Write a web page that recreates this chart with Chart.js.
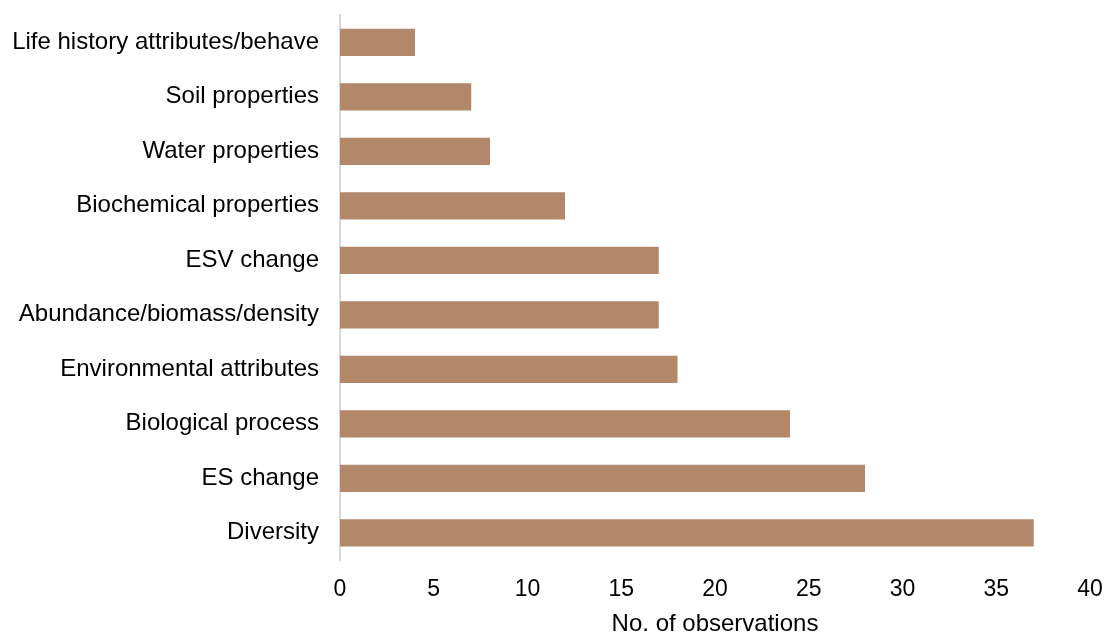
<!DOCTYPE html>
<html>
<head>
<meta charset="utf-8">
<script src="https://cdn.jsdelivr.net/npm/chart.js@4/dist/chart.umd.min.js"></script>
<style>
  html, body { margin: 0; padding: 0; background: #fff; }
  #wrap { width: 1106px; height: 635px; }
</style>
</head>
<body>
<div id="wrap"><canvas id="obsChart" width="1106" height="635"></canvas></div>
<script>
const categories = [
  "Life history attributes/behave",
  "Soil properties",
  "Water properties",
  "Biochemical properties",
  "ESV change",
  "Abundance/biomass/density",
  "Environmental attributes",
  "Biological process",
  "ES change",
  "Diversity"
];
const observations = [4, 7, 8, 12, 17, 17, 18, 24, 28, 37];
const xTicks = [0, 5, 10, 15, 20, 25, 30, 35, 40];

const font = "'Liberation Sans', Arial, sans-serif";

// fixed axis sizes; drop the label-overhang padding so layout.padding sets the plot edges
function fixAxis(size) {
  return (axis) => {
    if (axis.isHorizontal()) axis.height = size; else axis.width = size;
    axis.paddingTop = axis.paddingBottom = axis.paddingLeft = axis.paddingRight = 0;
  };
}

new Chart(document.getElementById("obsChart").getContext("2d"), {
  type: "bar",
  data: {
    labels: categories,
    datasets: [{
      data: observations,
      backgroundColor: "#b2876a",
      borderWidth: 0,
      barPercentage: 0.5,
      categoryPercentage: 1.0
    }]
  },
  options: {
    indexAxis: "y",
    responsive: false,
    animation: false,
    devicePixelRatio: 1,
    layout: { padding: { top: 15, right: 16, bottom: 0, left: 0 } },
    plugins: { legend: { display: false }, tooltip: { enabled: false } },
    scales: {
      x: {
        min: 0,
        max: 40,
        afterBuildTicks: (axis) => { axis.ticks = xTicks.map((v) => ({ value: v })); },
        afterFit: fixAxis(75),
        grid: { display: false },
        border: { display: false },
        ticks: { color: "#000", padding: 8, font: { family: font, size: 23 } },
        title: {
          display: true,
          text: "No. of observations",
          color: "#000",
          padding: { top: 0, bottom: -4 },
          font: { family: font, size: 24 }
        }
      },
      y: {
        afterFit: fixAxis(340),
        grid: { display: false },
        border: { display: true, color: "#d9d9d9", width: 2 },
        ticks: { color: "#000", padding: 13, font: { family: font, size: 24 } }
      }
    }
  }
});
</script>
</body>
</html>
